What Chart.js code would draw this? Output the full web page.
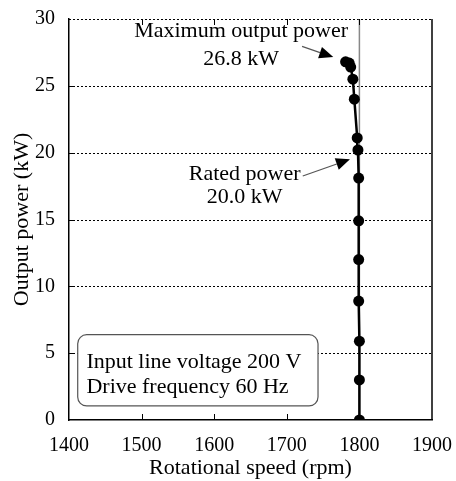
<!DOCTYPE html>
<html>
<head>
<meta charset="utf-8">
<script src="https://cdn.jsdelivr.net/npm/chart.js@4/dist/chart.umd.min.js"></script>
<style>
  body { margin: 0; background: #fff; }
  canvas { display: block; }
</style>
</head>
<body>
<canvas id="chart" width="456" height="481"></canvas>
<script>
// valeurs
const speedRpm = [1800, 1800, 1800, 1799, 1799, 1799, 1799, 1798, 1797, 1793, 1791, 1788, 1786, 1781];
const powerKw  = [0, 3.0, 5.9, 8.9, 12.0, 14.9, 18.1, 20.2, 21.1, 24.0, 25.5, 26.4, 26.7, 26.8];
const syncSpeed = [1800, 1800];
const syncRange = [0, 30];
const xTicks = [1400, 1500, 1600, 1700, 1800, 1900];
const yTicks = [0, 5, 10, 15, 20, 25, 30];
const boxLines = ['Input line voltage 200 V', 'Drive frequency 60 Hz'];

const FONT = '"Liberation Serif", "Times New Roman", serif';

// annotations (coordonnées dans l'espace des données)
const notes = [
    { lines: ['Maximum output power', '26.8 kW'], x: 1637, y: [29.1, 27.0], from: [1721, 27.95], to: [1764, 27.15] },
    { lines: ['Rated power', '20.0 kW'], x: 1642, y: [18.4, 16.7], from: [1722, 18.25], to: [1787, 19.5] }
];

const framePlugin = {
    id: 'frame',
    beforeDatasetsDraw(chart) {
        const { ctx, chartArea: a, scales: { y } } = chart;
        // lignes de grille pointillées
        ctx.save();
        ctx.strokeStyle = '#000';
        ctx.lineWidth = 1;
        ctx.setLineDash([2, 2]);
        ctx.beginPath();
        yTicks.slice(1).forEach(v => {
            const py = Math.round(y.getPixelForValue(v)) + 0.5;
            ctx.moveTo(a.left, py); ctx.lineTo(a.right, py);
        });
        ctx.stroke();
        ctx.restore();
    },
    afterDatasetsDraw(chart) {
        const { ctx, chartArea: a, scales: { x, y } } = chart;
        ctx.save();
        ctx.strokeStyle = '#000';
        ctx.lineWidth = 1;
        // petits traits vers l'intérieur
        ctx.beginPath();
        xTicks.slice(1, -1).forEach(v => {
            const px = Math.round(x.getPixelForValue(v)) + 0.5;
            ctx.moveTo(px, a.bottom); ctx.lineTo(px, a.bottom - 6);
            ctx.moveTo(px, a.top); ctx.lineTo(px, a.top + 6);
        });
        yTicks.slice(1, -1).forEach(v => {
            const py = Math.round(y.getPixelForValue(v)) + 0.5;
            ctx.moveTo(a.left, py); ctx.lineTo(a.left + 6, py);
        });
        ctx.stroke();
        // bord droit
        ctx.lineWidth = 1.5;
        ctx.beginPath();
        ctx.moveTo(a.right, a.top); ctx.lineTo(a.right, a.bottom);
        ctx.stroke();

        // cadre de légende
        const bx1 = x.getPixelForValue(1412), bx2 = x.getPixelForValue(1743);
        const by1 = y.getPixelForValue(6.38), by2 = y.getPixelForValue(1.05);
        ctx.beginPath();
        ctx.roundRect(bx1, by1, bx2 - bx1, by2 - by1, 9);
        ctx.fillStyle = '#fff';
        ctx.fill();
        ctx.strokeStyle = '#555';
        ctx.lineWidth = 1.2;
        ctx.stroke();
        ctx.fillStyle = '#000';
        ctx.font = '22px ' + FONT;
        ctx.textAlign = 'left';
        ctx.textBaseline = 'middle';
        ctx.fillText(boxLines[0], x.getPixelForValue(1424), y.getPixelForValue(4.35));
        ctx.fillText(boxLines[1], x.getPixelForValue(1424), y.getPixelForValue(2.48));

        // annotations avec flèches
        ctx.textAlign = 'center';
        notes.forEach(n => {
            n.lines.forEach((t, i) => ctx.fillText(t, x.getPixelForValue(n.x), y.getPixelForValue(n.y[i])));
            const x0 = x.getPixelForValue(n.from[0]), y0 = y.getPixelForValue(n.from[1]);
            const x1 = x.getPixelForValue(n.to[0]), y1 = y.getPixelForValue(n.to[1]);
            const ang = Math.atan2(y1 - y0, x1 - x0);
            const hl = 14, hw = 6;
            const bx = x1 - hl * Math.cos(ang), by = y1 - hl * Math.sin(ang);
            ctx.beginPath();
            ctx.moveTo(x0, y0); ctx.lineTo(bx, by);
            ctx.lineWidth = 1.2;
            ctx.stroke();
            ctx.beginPath();
            ctx.moveTo(x1, y1);
            ctx.lineTo(bx + hw * Math.sin(ang), by - hw * Math.cos(ang));
            ctx.lineTo(bx - hw * Math.sin(ang), by + hw * Math.cos(ang));
            ctx.closePath();
            ctx.fill();
        });
        ctx.restore();
    }
};

new Chart(document.getElementById('chart'), {
    type: 'line',
    data: {
        datasets: [
            {
                data: speedRpm.map((s, i) => ({ x: s, y: powerKw[i] })),
                borderColor: '#000',
                borderWidth: 2.5,
                pointRadius: 5.5,
                pointBackgroundColor: '#000',
                pointBorderWidth: 0,
                tension: 0,
                order: 1
            },
            {
                data: syncSpeed.map((s, i) => ({ x: s, y: syncRange[i] })),
                borderColor: '#888',
                borderWidth: 1.5,
                pointRadius: 0,
                order: 2
            }
        ]
    },
    options: {
        responsive: false,
        animation: false,
        layout: { padding: { top: 19, right: 24, left: 0, bottom: 0 } },
        plugins: { legend: { display: false }, tooltip: { enabled: false } },
        scales: {
            x: {
                type: 'linear',
                min: 1400, max: 1900,
                afterFit: s => { s.height = 61; s.paddingLeft = 0; s.paddingRight = 0; },
                afterBuildTicks: s => { s.ticks = xTicks.map(v => ({ value: v })); },
                grid: { display: false },
                border: { color: '#000', width: 1.5 },
                ticks: { color: '#000', font: { family: FONT, size: 20 }, padding: 6, maxRotation: 0, callback: v => String(v) },
                title: { display: true, text: 'Rotational speed (rpm)', color: '#000', font: { family: FONT, size: 22 }, padding: { top: 0, bottom: 0 } }
            },
            y: {
                min: 0, max: 30,
                afterFit: s => { s.width = 69; s.paddingTop = 0; s.paddingBottom = 0; },
                afterBuildTicks: s => { s.ticks = yTicks.map(v => ({ value: v })); },
                grid: { display: false },
                border: { color: '#000', width: 1.5 },
                ticks: { color: '#000', font: { family: FONT, size: 20 }, padding: 6, callback: v => String(v) },
                title: { display: true, text: 'Output power (kW)', color: '#000', font: { family: FONT, size: 22 }, padding: { top: 9, bottom: 0 } }
            }
        }
    },
    plugins: [framePlugin]
});
</script>
</body>
</html>
